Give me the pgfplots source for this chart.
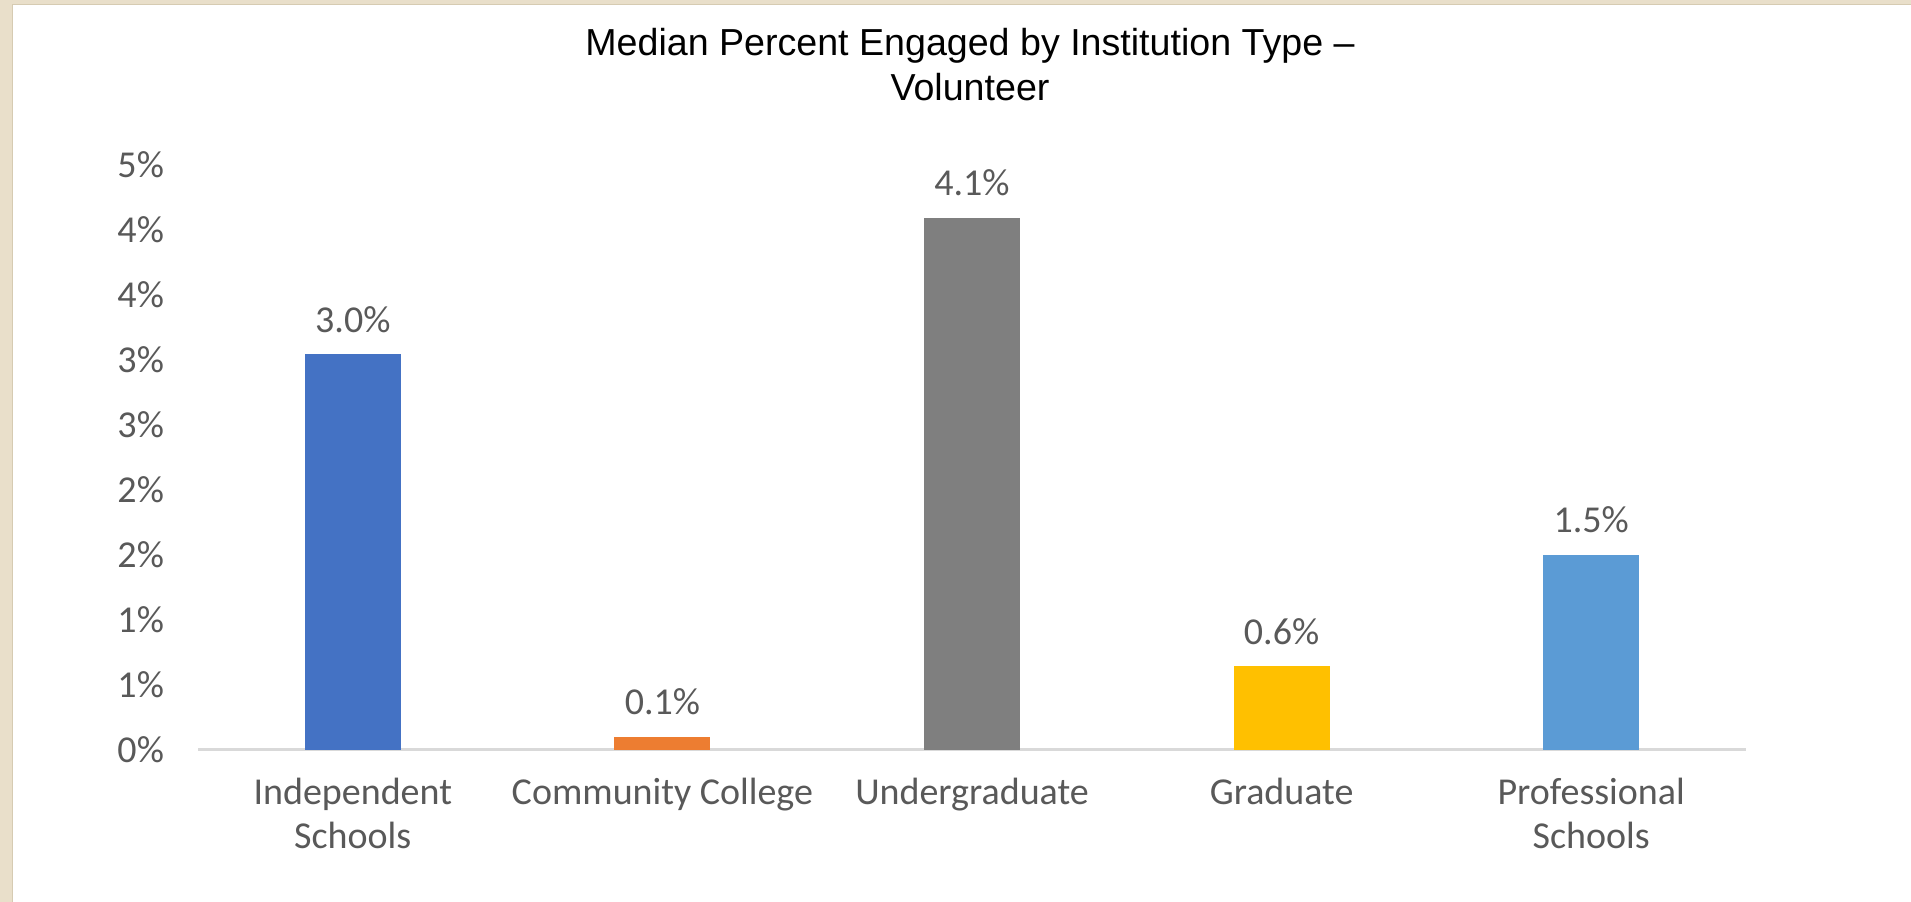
\documentclass[border=0pt]{standalone}
\usepackage{fontspec}
\setmainfont{Carlito}
\newfontfamily\arialfont{Liberation Sans}
\usepackage{pgfplots}
\pgfplotsset{compat=1.18}
\definecolor{cBlue}{HTML}{4472C4}
\definecolor{cOrange}{HTML}{ED7D31}
\definecolor{cGray}{HTML}{7F7F7F}
\definecolor{cGold}{HTML}{FFC000}
\definecolor{cLBlue}{HTML}{5B9BD5}
\definecolor{txtgray}{HTML}{595959}
\definecolor{axgray}{HTML}{D9D9D9}
\definecolor{beige}{HTML}{E9DFCA}
\definecolor{beigedark}{HTML}{D6CBB2}
\begin{document}
\begin{tikzpicture}
\fill[beige] (0,0) rectangle (477.75bp,225.5bp);
\fill[beigedark] (2.9bp,0) rectangle (477.75bp,224.6bp);
\fill[white] (3.3bp,0) rectangle (477.75bp,224.25bp);
\useasboundingbox (0,0) rectangle (477.75bp,225.5bp);
\node[align=center, font=\arialfont\fontsize{9.4bp}{11.2bp}\selectfont, anchor=center] at (242.5bp,209.3bp) {Median Percent Engaged by Institution Type –\\Volunteer};
\begin{axis}[
  at={(49.5bp,38.1bp)}, anchor=south west,
  scale only axis, width=387bp, height=146.25bp,
  xmin=-0.5, xmax=4.5, ymin=0, ymax=4.5,
  axis x line*=bottom, axis y line*=left,
  x axis line style={draw=axgray, line width=0.7bp, -},
  y axis line style={draw=none},
  major tick length=0pt,
  /pgf/number format/assume math mode=true,
  xtick={0,1,2,3,4},
  xticklabels={Independent\\Schools, Community College, Undergraduate, Graduate, Professional\\Schools},
  xticklabel style={align=center, text=txtgray, font=\fontsize{9.5bp}{11bp}\selectfont, yshift=-3.5bp},
  ytick={0,0.5,1,1.5,2,2.5,3,3.5,4,4.5},
  yticklabels={0\%,1\%,1\%,2\%,2\%,3\%,3\%,4\%,4\%,5\%},
  yticklabel style={text=txtgray, font=\fontsize{9.5bp}{11bp}\selectfont, xshift=-5bp},
  ybar, bar width=24bp, bar shift=0pt,
  nodes near coords={\pgfmathprintnumber[fixed,fixed zerofill,precision=1,assume math mode=true]{\pgfplotspointmeta}\%},
  nodes near coords style={text=txtgray, font=\fontsize{9.5bp}{11bp}\selectfont, yshift=2bp},
  clip=false,
]
\addplot[fill=cBlue, draw=none] coordinates {(0,3.04)};
\addplot[fill=cOrange, draw=none] coordinates {(1,0.1)};
\addplot[fill=cGray, draw=none] coordinates {(2,4.09)};
\addplot[fill=cGold, draw=none] coordinates {(3,0.64)};
\addplot[fill=cLBlue, draw=none] coordinates {(4,1.5)};
\end{axis}
\end{tikzpicture}
\end{document}
